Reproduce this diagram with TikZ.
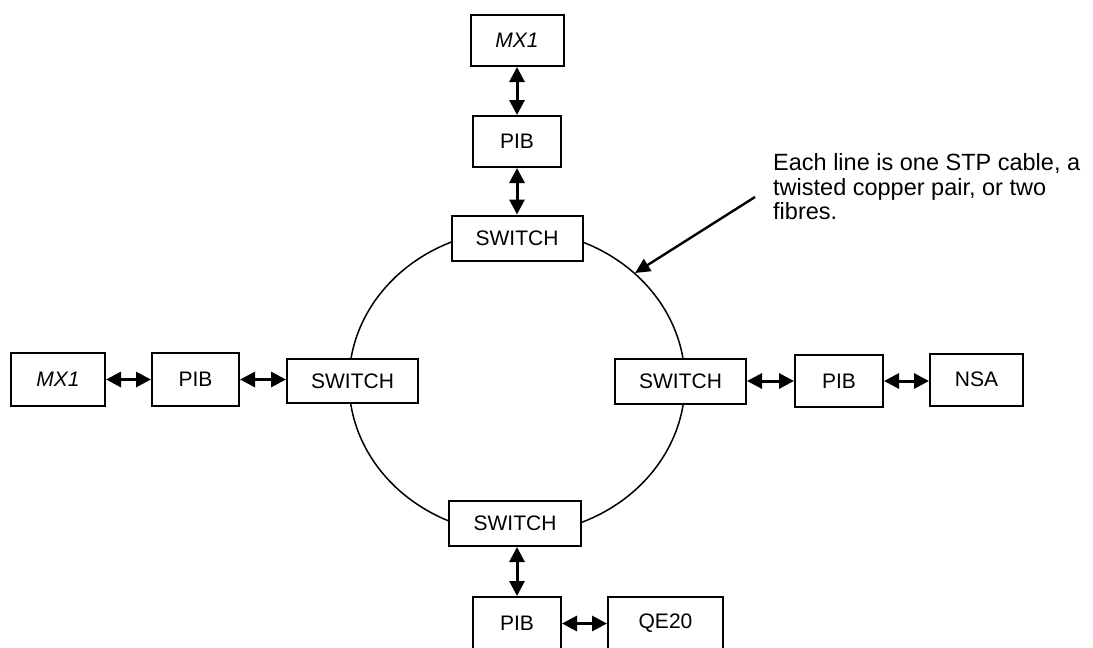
\documentclass[tikz,border=0pt]{standalone}
\usepackage{fontspec}
\setmainfont{Liberation Sans}
\usetikzlibrary{arrows.meta}
\begin{document}
\begin{tikzpicture}[x=1pt,y=-1pt,
  box/.style={draw, fill=white, line width=2pt, inner sep=0pt,
    font=\fontsize{21}{24.2}\selectfont},
  biarrow/.style={line width=3pt,
    {Triangle[length=15pt,width=15pt]}-{Triangle[length=15pt,width=15pt]}},
  annot/.style={line width=2.4pt, -{Triangle[length=15pt,width=14pt]}},
  ring/.style={line width=1.5pt}
]
\useasboundingbox (0,0) rectangle (1093,648);
% ring
\draw[ring] (517,382) ellipse [x radius=168pt, y radius=152pt];
% top column
\node[box, minimum width=93pt, minimum height=51pt] (mx1t) at (517,40.5) {\itshape MX1};
\node[box, minimum width=88pt, minimum height=51pt] (pibt) at (517,141.5) {PIB};
\node[box, minimum width=131pt, minimum height=45pt] (swt) at (517,238) {SWITCH};
% left row
\node[box, minimum width=94pt, minimum height=53pt] (mx1l) at (58,379.5) {\itshape MX1};
\node[box, minimum width=87pt, minimum height=53pt] (pibl) at (195.5,379.5) {PIB};
\node[box, minimum width=131pt, minimum height=44pt] (swl) at (352.5,381) {SWITCH};
% right row
\node[box, minimum width=131pt, minimum height=45pt] (swr) at (680.5,381.5) {SWITCH};
\node[box, minimum width=88pt, minimum height=52pt] (pibr) at (839,381) {PIB};
\node[box, minimum width=93pt, minimum height=52pt] (nsa) at (976.5,379.5) {NSA};
% bottom
\node[box, minimum width=132pt, minimum height=45pt] (swb) at (515,523.5) {SWITCH};
\node[box, minimum width=88pt, minimum height=53pt] (pibb) at (517,623.5) {PIB};
\node[box, minimum width=115pt, minimum height=53pt] (qe20) at (665.5,623.5) {QE20};
% arrows
\draw[biarrow] (mx1t.south) -- (pibt.north);
\draw[biarrow] (pibt.south) -- (swt.north);
\draw[biarrow] (mx1l.east) -- (pibl.west);
\draw[biarrow] (pibl.east) -- (pibl.east -| swl.west);
\draw[biarrow] (swr.east |- pibr.west) -- (pibr.west);
\draw[biarrow] (pibr.east) -- (pibr.east -| nsa.west);
\draw[biarrow] (pibb.north |- swb.south) -- (pibb.north);
\draw[biarrow] (pibb.east) -- (qe20.west);
% annotation
\coordinate (astart) at (755,197);
\coordinate (atip) at (635,273);
\draw[annot] (astart) -- (atip);
\node[anchor=north west, inner sep=0pt, align=left,
  font=\fontsize{23.5}{24.5}\selectfont] (note) at (773,153.6)
  {Each line is one STP cable, a\\twisted copper pair, or two\\fibres.};
\end{tikzpicture}
\end{document}
